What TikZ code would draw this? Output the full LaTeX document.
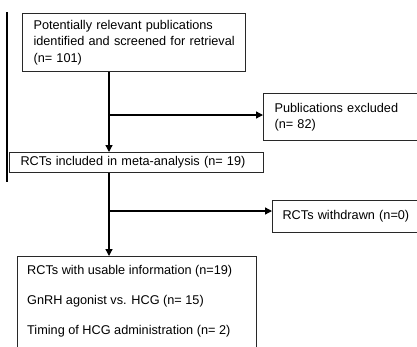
\documentclass[tikz,border=0pt]{standalone}
\usepackage{fontspec}
\setmainfont{Liberation Sans}
\usetikzlibrary{arrows.meta,positioning,calc}
\definecolor{frame}{RGB}{40,40,40}
\tikzset{
  box/.style={draw=frame,line width=1.1pt,rectangle,anchor=north west,align=left,inner xsep=11pt,inner ysep=0pt},
  flow/.style={line width=1.3pt,-{Triangle[length=7pt,width=7pt]}}
}

\begin{document}
\begin{tikzpicture}[x=1pt,y=-1pt,font=\fontsize{12.7}{16.5}\selectfont]
  \useasboundingbox (0,0) rectangle (417,346);
  \clip (0,0) rectangle (417,346);
  \draw[line width=1.1pt] (7,12) -- (7,182);
  % boxes
  \node[box,text width=201pt,minimum height=58pt] (pot) at (22,13) {Potentially relevant publications\\\mbox{identified and screened for retrieval}\\(n= 101)};
  \node[box,text width=150pt,minimum height=47pt] (excl) at (263,93) {Publications excluded\\(n= 82)};
  \node[box,text width=232pt,minimum height=20pt] (incl) at (9,152) {RCTs included in meta-analysis (n= 19)};
  \node[box,text width=150pt,minimum height=32pt,inner xsep=10pt] (wdr) at (272,200) {RCTs withdrawn (n=0)};
  \node[box,minimum width=239pt,minimum height=110pt] (usable) at (17,256) {};
  \node[anchor=north west,align=left,inner sep=0pt,font=\fontsize{12.7}{30}\selectfont] (usetxt) at ($(usable.north west)+(10,9)$) {RCTs with usable information (n=19)\\GnRH agonist vs. HCG (n= 15)\\Timing of HCG administration (n= 2)};
  % connectors
  \coordinate (b1) at (109,115);
  \coordinate (b2) at (109,211);
  \draw[flow] (pot.south -| b1) -- (incl.north -| b1);
  \draw[flow] (b1) -- (excl.west |- b1);
  \draw[flow] (incl.south -| b2) -- (usable.north -| b2);
  \draw[flow] (b2) -- (wdr.west |- b2);
\end{tikzpicture}
\end{document}
